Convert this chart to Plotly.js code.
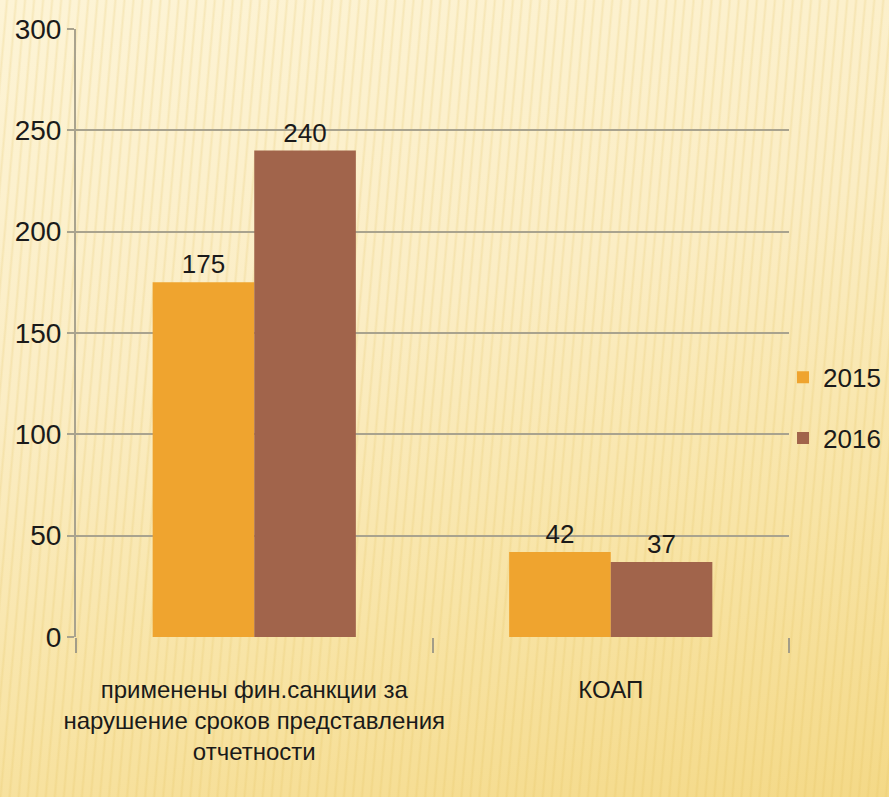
<!DOCTYPE html>
<html>
<head>
<meta charset="utf-8">
<script src="https://cdn.plot.ly/plotly-3.0.1.min.js"></script>
<style>
html,body{margin:0;padding:0;}
body{width:889px;height:797px;overflow:hidden;
background:
 repeating-linear-gradient(95deg, rgba(255,255,255,0) 0px, rgba(255,255,255,0) 5px, rgba(225,190,90,0.22) 7px, rgba(255,255,255,0) 9px),
 linear-gradient(165deg, #FDF4D6 0%, #FBEDC4 40%, #F8E4A6 70%, #F4D987 100%);}
#chart{width:889px;height:797px;}
</style>
</head>
<body>
<div id="chart"></div>
<script>
var categories = ["применены фин.санкции за<br>нарушение сроков представления<br>отчетности", "КОАП"];
var seriesNames = ["2015", "2016"];
var values2015 = [175, 42];
var values2016 = [240, 37];
var tickVals = [0, 50, 100, 150, 200, 250, 300];

var font = "'Liberation Sans', Arial, sans-serif";

var traces = [
  {type:'bar', name:seriesNames[0], legendgroup:'a', x:categories, y:values2015,
   marker:{color:'#EFA42F'}, text:values2015.map(String), textposition:'outside',
   textfont:{family:font, size:26, color:'#1a1a1a'}, cliponaxis:false},
  {type:'bar', name:seriesNames[1], legendgroup:'b', x:categories, y:values2016,
   marker:{color:'#A1644B'}, text:values2016.map(String), textposition:'outside',
   textfont:{family:font, size:26, color:'#1a1a1a'}, cliponaxis:false}
];

var layout = {
  width:889, height:797,
  paper_bgcolor:'rgba(0,0,0,0)', plot_bgcolor:'rgba(0,0,0,0)',
  margin:{l:76, r:100, t:29, b:160, autoexpand:false},
  font:{family:font, color:'#1a1a1a'},
  bargap:0.43, bargroupgap:0,
  xaxis:{type:'category', showline:false, showgrid:false, zeroline:false,
         ticks:'outside', tickson:'boundaries', ticklen:15, tickcolor:'#A39D88', tickwidth:2,
         tickangle:0, automargin:false, ticklabelstandoff:36,
         tickfont:{family:font, size:24, color:'#1a1a1a'}},
  yaxis:{range:[0,300], tickvals:tickVals, showgrid:true, gridcolor:'#A9A38E', gridwidth:2,
         showline:true, linecolor:'#A9A38E', linewidth:2, zeroline:false,
         ticks:'outside', ticklen:7, tickcolor:'#A9A38E', tickwidth:2, automargin:false,
         tickfont:{family:font, size:28, color:'#1a1a1a'}, ticklabelstandoff:0},
  showlegend:true,
  legend:{x:0.9916, xanchor:'left', y:0.377, yanchor:'middle', bgcolor:'rgba(0,0,0,0)',
          font:{family:font, size:26, color:'#1a1a1a'}, itemwidth:30, tracegroupgap:24, traceorder:'grouped'}
};

Plotly.newPlot('chart', traces, layout, {staticPlot:true});
</script>
</body>
</html>
